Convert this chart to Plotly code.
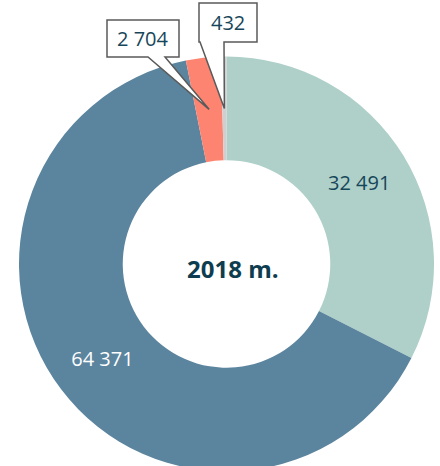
import math
import plotly.graph_objects as go

# ---- data ----
categories = ["A", "B", "C", "D"]
values = [32491, 64371, 2704, 432]
colors = ["#aed0c9", "#5b859e", "#fd8470", "#cfcfcf"]
center_label = "2018 m."

# ---- layout geometry (pixels) ----
W, H = 440, 480
cx, cy, R = 226.5, 264.0, 207.5
hole = 0.5

def fx(px):
    return px / W

def fy(py):
    return 1 - py / H

fig = go.Figure()
fig.add_trace(go.Pie(
    labels=categories,
    values=values,
    sort=False,
    direction="clockwise",
    rotation=0,
    hole=hole,
    marker=dict(colors=colors, line=dict(width=0)),
    texttemplate=["%{value:,}", "%{value:,}", "", ""],
    textposition="inside",
    insidetextorientation="horizontal",
    insidetextfont=dict(family="Open Sans", size=20,
                        color=["#17465a", "#ffffff", "#17465a", "#17465a"]),
    hoverinfo="label+value",
    showlegend=False,
    domain=dict(x=[fx(cx - R), fx(cx + R)], y=[fy(cy + R), fy(cy - R)]),
))

# callout bubbles for small slices (tip at slice centroid, computed from data)
total = sum(values)
starts = []
acc = 0
for v in values:
    starts.append(acc)
    acc += v

bubbles = {
    2: dict(box=(107, 20, 179, 57), base=(148, 165)),
    3: dict(box=(199, 3, 257, 42), base=(200, 224)),
}
shapes = []
annotations = []
rt = (hole * R + R) / 2
for i, b in bubbles.items():
    mid = (starts[i] + values[i] / 2) / total * 2 * math.pi
    tx = cx + rt * math.sin(mid)
    ty = cy - rt * math.cos(mid)
    x0, y0, x1, y1 = b["box"]
    t0, t1 = b["base"]
    pts = [(x0, y0), (x1, y0), (x1, y1), (t1, y1), (tx, ty), (t0, y1), (x0, y1)]
    path = "M " + " L ".join(f"{fx(p[0]):.5f},{fy(p[1]):.5f}" for p in pts) + " Z"
    shapes.append(dict(type="path", path=path, xref="paper", yref="paper",
                       fillcolor="white", line=dict(color="#5a5a5a", width=1.5),
                       layer="above"))
    annotations.append(dict(
        x=fx((x0 + x1) / 2), y=fy((y0 + y1) / 2), xref="paper", yref="paper",
        text=f"{values[i]:,}".replace(",", " "), showarrow=False,
        font=dict(family="Open Sans", size=20, color="#17465a"),
        xanchor="center", yanchor="middle"))

annotations.append(dict(
    x=fx(cx + 6), y=fy(cy + 4), xref="paper", yref="paper",
    text=f"<b>{center_label}</b>", showarrow=False,
    font=dict(family="Open Sans", size=24, color="#0e3d4f"),
    xanchor="center", yanchor="middle"))

fig.update_layout(
    width=W, height=H,
    margin=dict(l=0, r=0, t=0, b=0),
    paper_bgcolor="white",
    plot_bgcolor="white",
    separators=", ",
    shapes=shapes,
    annotations=annotations,
)

fig.write_html("out.html", config={"displayModeBar": False},
               post_script="document.body.style.margin='0';document.body.style.overflow='hidden';")
